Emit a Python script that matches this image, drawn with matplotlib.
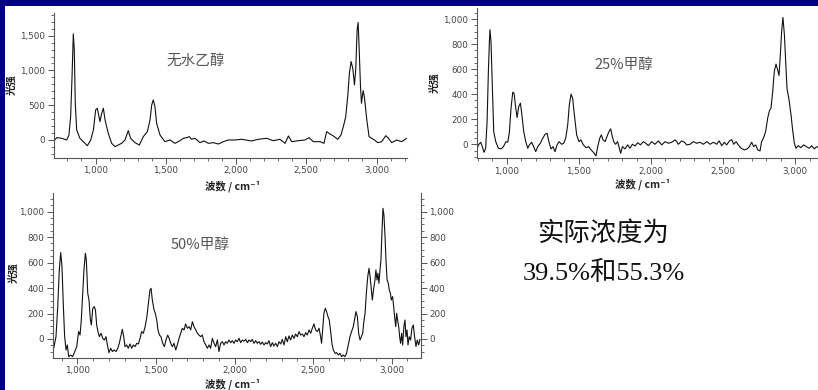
import matplotlib
matplotlib.use("Agg")
import matplotlib.pyplot as plt
from matplotlib.ticker import MultipleLocator, FuncFormatter
from matplotlib.patches import Rectangle

plt.rcParams['font.family'] = ['Noto Sans CJK SC', 'DejaVu Sans']

# ---------------- data ----------------
wn_ethanol = [705, 725, 760, 795, 811, 823, 833, 842, 849, 856, 866, 889, 913, 942, 966, 985,
              1001, 1013, 1032, 1044, 1056, 1068, 1091, 1115, 1139, 1162, 1186, 1210, 1233, 1250,
              1281, 1312, 1340, 1369, 1388, 1400, 1411, 1423, 1435, 1459, 1494, 1530, 1566, 1601,
              1625, 1649, 1668, 1684, 1708, 1744, 1772, 1803, 1839, 1874, 1910, 1946, 1993, 2040,
              2111, 2159, 2218, 2265, 2313, 2349, 2373, 2396, 2444, 2491, 2520, 2550, 2598, 2626,
              2645, 2669, 2693, 2724, 2747, 2764, 2781, 2795, 2807, 2819, 2831, 2843, 2852, 2862,
              2869, 2876, 2886, 2893, 2905, 2914, 2931, 2947, 2966, 2985, 3009, 3037, 3066, 3085,
              3108, 3144, 3179, 3215]
int_ethanol = [-10, 34, 24, 0, 72, 336, 912, 1526, 1296, 528, 144, 24, -24, -82, 0, 144,
               432, 456, 264, 384, 456, 288, 96, -48, -96, -72, -48, 0, 134, 24,
               -38, -72, 48, 120, 288, 504, 576, 480, 240, 72, -24, 0, -48, -10,
               24, 34, 48, 10, 24, -38, -14, -48, -38, -58, -24, 0, 0, 10,
               -14, 10, 24, -10, 10, -48, 58, -24, -10, 0, 34, -24, -24, -48,
               120, 86, 58, 10, 72, 192, 336, 624, 960, 1128, 1032, 792, 1008, 1584,
               1690, 1344, 768, 528, 710, 614, 288, 48, 24, 0, -38, -24, 62, 24,
               -38, 0, -24, 24]

wn_25 = [792, 804, 820, 831, 843, 854, 864, 873, 880, 884, 891, 901, 910, 924, 942, 961, 977,
         995, 1007, 1018, 1030, 1042, 1051, 1060, 1072, 1083, 1095, 1104, 1118, 1132, 1146,
         1157, 1173, 1187, 1201, 1215, 1233, 1250, 1266, 1280, 1291, 1307, 1321, 1335, 1349,
         1363, 1381, 1395, 1409, 1423, 1434, 1446, 1457, 1469, 1485, 1501, 1515, 1531, 1550,
         1568, 1585, 1601, 1619, 1631, 1645, 1656, 1668, 1682, 1695, 1709, 1721, 1732, 1744,
         1755, 1769, 1781, 1790, 1802, 1820, 1839, 1855, 1871, 1890, 1908, 1927, 1947, 1964,
         1982, 2005, 2028, 2051, 2075, 2098, 2121, 2144, 2167, 2179, 2190, 2213, 2232, 2248,
         2271, 2294, 2317, 2340, 2363, 2387, 2410, 2433, 2456, 2472, 2491, 2509, 2525, 2544,
         2560, 2574, 2590, 2606, 2625, 2648, 2666, 2682, 2698, 2712, 2726, 2740, 2756, 2767,
         2781, 2795, 2809, 2821, 2832, 2844, 2855, 2867, 2878, 2888, 2897, 2906, 2915, 2925,
         2934, 2943, 2957, 2971, 2982, 2994, 3005, 3021, 3040, 3058, 3079, 3097, 3114, 3132,
         3148, 3160]
int_25 = [-45, -5, 16, -19, -64, -32, 181, 581, 821, 915, 821, 448, 101, 21, -32, -37, -19,
          21, 16, 88, 288, 416, 408, 315, 213, 301, 328, 248, 101, 21, -32,
          -5, 16, -19, -59, -19, 8, 48, 80, 88, 27, -37, -19, -59, -5,
          21, 0, 8, 48, 155, 315, 400, 368, 235, 75, 21, 35, -5, -27,
          -19, -45, -64, -93, -19, 48, 75, 35, 21, 61, 101, 123, 61, 16,
          0, 21, -32, -72, -19, -37, -5, -32, 0, -13, 13, -5, 21, 8,
          -11, 21, 0, 27, -5, 21, 8, 16, 35, 21, 0, 27, 16, -5,
          0, 21, 8, 16, 0, 21, 0, 16, 0, 27, -11, 16, -5, 27,
          37, 0, 21, -5, -32, -45, -37, -19, 16, -19, -5, -45, -53, 21,
          53, 101, 208, 267, 288, 421, 581, 640, 595, 549, 715, 901, 1013, 875,
          661, 448, 355, 235, 115, 8, -32, -11, -27, -5, -19, -32, -11, -37,
          -19, -25]

wn_50 = [847, 864, 875, 885, 894, 902, 911, 919, 928, 936, 945, 958, 970, 983, 996, 1008,
         1017, 1025, 1034, 1042, 1051, 1057, 1066, 1074, 1083, 1089, 1098, 1108, 1115, 1123,
         1131, 1140, 1151, 1161, 1172, 1182, 1191, 1201, 1212, 1223, 1233, 1246, 1257, 1267,
         1278, 1286, 1295, 1303, 1314, 1324, 1335, 1346, 1356, 1367, 1378, 1388, 1399, 1409,
         1420, 1431, 1441, 1452, 1462, 1469, 1477, 1488, 1496, 1505, 1513, 1522, 1532, 1543,
         1554, 1564, 1575, 1584, 1594, 1605, 1615, 1626, 1636, 1647, 1658, 1668, 1679, 1689,
         1700, 1711, 1721, 1732, 1742, 1753, 1764, 1774, 1785, 1795, 1806, 1817, 1827, 1838,
         1848, 1859, 1870, 1880, 1891, 1901, 1912, 1923, 1933, 1944, 1954, 1965, 1976, 1986,
         1997, 2007, 2018, 2029, 2039, 2050, 2060, 2071, 2082, 2092, 2103, 2113, 2124, 2135,
         2145, 2156, 2166, 2177, 2188, 2198, 2209, 2219, 2230, 2241, 2251, 2262, 2273, 2283,
         2294, 2304, 2315, 2326, 2336, 2347, 2357, 2368, 2379, 2389, 2400, 2411, 2421, 2432,
         2442, 2453, 2463, 2474, 2485, 2495, 2506, 2516, 2527, 2538, 2548, 2554, 2561, 2569,
         2578, 2586, 2595, 2603, 2612, 2620, 2629, 2640, 2650, 2661, 2671, 2682, 2692, 2703,
         2713, 2724, 2735, 2745, 2756, 2765, 2773, 2782, 2790, 2799, 2807, 2816, 2822, 2831,
         2839, 2848, 2856, 2863, 2869, 2877, 2886, 2894, 2900, 2907, 2913, 2919, 2926, 2932,
         2939, 2945, 2951, 2958, 2964, 2971, 2979, 2985, 2992, 2998, 3006, 3013, 3019, 3026,
         3032, 3038, 3045, 3051, 3057, 3064, 3070, 3078, 3085, 3091, 3098, 3104, 3112, 3121,
         3129, 3138, 3146, 3155, 3163, 3172, 3180]
int_50 = [-86, 18, 254, 542, 678, 568, 254, 18, -86, -47, -139, -126, -139, -99, -60, 58,
          31, 149, 359, 542, 673, 621, 359, 306, 149, 110, 241, 254, 228, 110,
          58, 18, 45, 5, -8, 18, -47, -107, -73, -99, -86, -99, -73, -34,
          31, 76, 18, -60, -47, -73, -39, -73, -47, -60, -34, -39, 5, 58,
          45, 97, 162, 280, 385, 398, 306, 228, 202, 149, 71, 31, 18, -34,
          -60, -8, 31, 5, -34, -60, -34, -86, -47, 5, 45, 84, 71, 118,
          84, 97, 71, 136, 97, 71, 45, 31, 18, 31, -21, -47, -73, -47,
          -73, 5, -34, -60, -8, -99, -34, -21, -47, -21, -34, -8, -29, -13,
          -34, -8, -21, 5, -29, -8, -18, -3, -29, -8, -21, -3, -34, -13,
          -34, -21, -42, -24, -47, -29, -39, -13, -60, -29, -55, -34, -60, -21,
          -39, -3, -47, 18, -21, 24, -8, 31, 5, 39, 18, 58, 31, 39,
          18, 50, 31, 71, 45, 84, 118, 71, 58, 84, 18, -34, 71, 202,
          241, 215, 175, 149, 58, -34, -86, -113, -107, -126, -113, -139, -126, -139,
          -113, -47, 18, 58, 97, 162, 215, 175, 45, -8, 18, 45, 123, 202,
          359, 490, 555, 490, 411, 306, 398, 463, 542, 463, 516, 437, 542, 620,
          856, 1026, 974, 804, 620, 463, 437, 385, 359, 306, 333, 254, 175, 97,
          202, 149, 97, 18, -34, 45, -47, 97, 149, 18, 71, -47, 18, -8,
          84, 110, 18, -60, -8, -47, -3]

labels = ["无水乙醇", "25%甲醇", "50%甲醇"]
x_ticks = [1000, 1500, 2000, 2500, 3000]
y_ticks_1 = [0, 500, 1000, 1500]
y_ticks_23 = [0, 200, 400, 600, 800, 1000]
xlabel = "波数 / cm⁻¹"
ylabel = "光强"
note_lines = ["实际浓度为", "39.5%和55.3%"]

# ---------------- figure ----------------
W, H = 818, 390
fig = plt.figure(figsize=(W / 100, H / 100), dpi=100, facecolor="white")
navy = "#00007f"
fig.patches.append(Rectangle((0, 1 - 6 / H), 1, 6 / H, transform=fig.transFigure,
                             facecolor=navy, edgecolor="none", zorder=-10))
fig.patches.append(Rectangle((0, 0), 5 / W, 1, transform=fig.transFigure,
                             facecolor=navy, edgecolor="none", zorder=-10))


def fx(px):
    return px / W


def fy(py):
    return 1 - py / H


def make_ax(l, t, r, b):
    return fig.add_axes([fx(l), fy(b), (r - l) / W, (b - t) / H])


fmt = FuncFormatter(lambda v, p: f"{int(v):,}")
spine_c = "#555555"
tick_c = "#444444"


def style(ax, ymajor, yminor, right=False):
    for s in ["top", "right"]:
        ax.spines[s].set_visible(False)
    if right:
        ax.spines["right"].set_visible(True)
    for s in ["left", "bottom", "right"]:
        ax.spines[s].set_color(spine_c)
        ax.spines[s].set_linewidth(0.8)
    ax.set_facecolor("none")
    ax.set_xticks(x_ticks)
    ax.xaxis.set_minor_locator(MultipleLocator(100))
    ax.set_yticks(ymajor)
    ax.yaxis.set_minor_locator(MultipleLocator(yminor))
    ax.xaxis.set_major_formatter(fmt)
    ax.yaxis.set_major_formatter(fmt)
    ax.tick_params(which="major", direction="out", length=4, width=0.7, color=spine_c,
                   labelsize=6.3, labelcolor=tick_c, pad=2, right=right, labelright=right)
    ax.tick_params(which="minor", direction="out", length=2.5, width=0.6, color=spine_c,
                   right=right)
    for lab in ax.get_xticklabels() + ax.get_yticklabels():
        lab.set_family("DejaVu Sans")


# Panel 1
ax1 = make_ax(53.5, 13, 407, 158)
ax1.plot(wn_ethanol, int_ethanol, color="#111111", lw=0.8)
ax1.set_xlim(701, 3217)
ax1.set_ylim(-259, 1826)
style(ax1, y_ticks_1, 100)

# Panel 2
ax2 = make_ax(476.7, 8, 818, 158.3)
ax2.plot(wn_25, int_25, color="#111111", lw=0.8)
ax2.set_xlim(792, 3158)
ax2.set_ylim(-112, 1088)
style(ax2, y_ticks_23, 50)

# Panel 3
ax3 = make_ax(52.7, 193.3, 420.7, 357.7)
ax3.plot(wn_50, int_50, color="#111111", lw=0.8)
ax3.set_xlim(843, 3185)
ax3.set_ylim(-147, 1144)
style(ax3, y_ticks_23, 50, right=True)

lab_kw = dict(fontsize=7.5, fontweight="bold", color="#222222",
              family=["Noto Sans CJK SC", "DejaVu Sans"], ha="center", va="center")
fig.text(fx(233), fy(186), xlabel, **lab_kw)
fig.text(fx(643), fy(184), xlabel, **lab_kw)
fig.text(fx(233), fy(384), xlabel, **lab_kw)
fig.text(fx(12), fy(85), ylabel, rotation=90, **lab_kw)
fig.text(fx(435), fy(83), ylabel, rotation=90, **lab_kw)
fig.text(fx(14), fy(273), ylabel, rotation=90, **lab_kw)

ann_kw = dict(fontsize=10.5, color="#555555", ha="center", va="center")
fig.text(fx(196), fy(62), labels[0], **ann_kw)
fig.text(fx(624), fy(65), labels[1], **ann_kw)
fig.text(fx(200), fy(245), labels[2], **ann_kw)

fig.text(fx(603), fy(233), note_lines[0], fontsize=19, color="#111111", ha="center", va="center")
fig.text(fx(604), fy(273), note_lines[1], fontsize=19, color="#111111", ha="center", va="center",
         family=["Liberation Serif", "Noto Sans CJK SC"])

fig.savefig("out.png", dpi=100, facecolor="white")
